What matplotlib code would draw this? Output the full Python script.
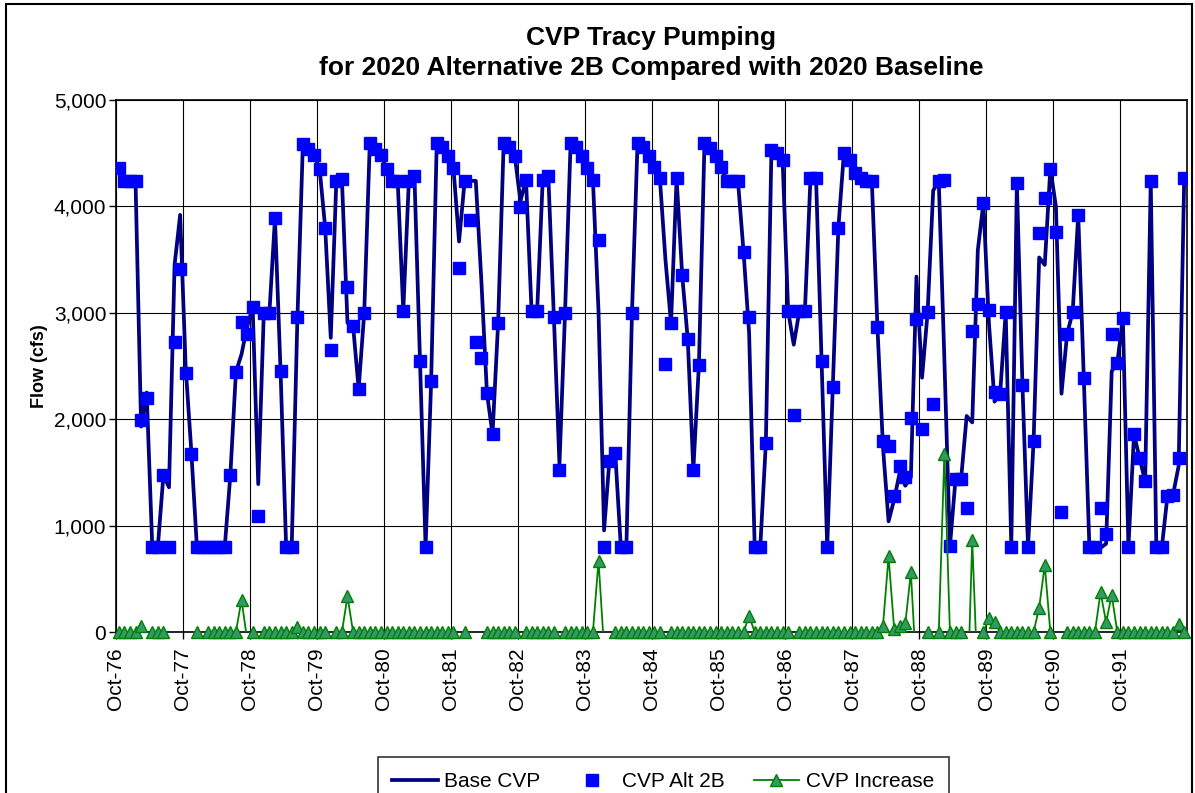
import matplotlib.pyplot as plt
import numpy as np
from matplotlib.lines import Line2D
from matplotlib.patches import Rectangle
from matplotlib.ticker import FuncFormatter

plt.rcParams['font.family'] = ['Liberation Sans', 'DejaVu Sans']

tick_labels = ['Oct-76', 'Oct-77', 'Oct-78', 'Oct-79', 'Oct-80', 'Oct-81', 'Oct-82', 'Oct-83',
               'Oct-84', 'Oct-85', 'Oct-86', 'Oct-87', 'Oct-88', 'Oct-89', 'Oct-90', 'Oct-91']

# monthly flows (cfs), Oct-76 .. Sep-92, one row per water year
base_cvp = [
    4360, 4240, 4240, 4240, 1930, 2250, 800, 800, 1475, 1360, 3450, 3920,
    2480, 1700, 800, 840, 800, 800, 800, 800, 1475, 2445, 2610, 2870,
    3050, 1390, 3000, 3000, 3890, 2455, 800, 800, 2910, 4585, 4540, 4480,
    4355, 3800, 2765, 4240, 4255, 2905, 2880, 2285, 3000, 4600, 4540, 4480,
    4355, 4240, 4240, 3015, 4240, 4290, 2545, 800, 2360, 4600, 4560, 4470,
    4360, 3670, 4240, 4240, 4240, 3300, 2245, 1860, 2900, 4600, 4560, 4470,
    4050, 4250, 3015, 3015, 4250, 4290, 2960, 1575, 3000, 4600, 4560, 4470,
    4360, 4250, 3015, 955, 1650, 1685, 800, 800, 3000, 4600, 4560, 4470,
    4370, 4265, 3500, 2900, 4265, 3355, 2750, 1525, 2510, 4600, 4545, 4470,
    4370, 4240, 4240, 4240, 3575, 2810, 800, 800, 1775, 4530, 4505, 4440,
    3015, 2700, 3015, 3015, 4265, 4265, 2545, 800, 2300, 3800, 4505, 4440,
    4310, 4265, 4240, 4240, 2870, 1735, 1040, 1245, 1500, 1375, 1455, 3340,
    2390, 3005, 4150, 4235, 2570, 805, 1435, 1435, 2030, 1970, 3590, 4030,
    2895, 2165, 2240, 3005, 800, 4220, 2320, 800, 1795, 3520, 3450, 4355,
    4000, 2240, 2800, 3005, 3920, 2385, 800, 800, 790, 830, 2450, 2530,
    2950, 800, 1860, 1635, 1415, 4240, 800, 800, 1280, 1290, 1560, 4265,
]

alt_2b = [
    4360, 4240, 4240, 4240, 1990, 2200, 800, 800, 1475, 800, 2730, 3410,
    2430, 1675, 800, 800, 800, 800, 800, 800, 1475, 2445, 2915, 2800,
    3050, 1090, 3000, 3000, 3890, 2455, 800, 800, 2960, 4585, 4540, 4480,
    4355, 3800, 2655, 4240, 4255, 3240, 2880, 2285, 3000, 4600, 4540, 4480,
    4355, 4240, 4240, 3015, 4240, 4290, 2545, 800, 2360, 4600, 4560, 4470,
    4360, 3420, 4240, 3870, 2730, 2575, 2245, 1860, 2900, 4600, 4560, 4470,
    3990, 4250, 3015, 3015, 4250, 4290, 2960, 1525, 3000, 4600, 4560, 4470,
    4360, 4250, 3685, 800, 1610, 1685, 800, 800, 3000, 4600, 4560, 4470,
    4370, 4265, 2520, 2900, 4265, 3355, 2750, 1525, 2510, 4600, 4545, 4470,
    4370, 4240, 4240, 4240, 3575, 2960, 800, 800, 1775, 4530, 4505, 4440,
    3015, 2040, 3015, 3015, 4265, 4265, 2545, 800, 2300, 3800, 4505, 4440,
    4310, 4265, 4240, 4240, 2870, 1795, 1750, 1275, 1560, 1455, 2015, 2940,
    1905, 3005, 2140, 4235, 4245, 805, 1435, 1435, 1170, 2830, 3080, 4030,
    3025, 2255, 2240, 3005, 800, 4220, 2320, 800, 1795, 3750, 4080, 4355,
    3760, 1130, 2800, 3005, 3920, 2385, 800, 800, 1165, 920, 2800, 2530,
    2950, 800, 1860, 1635, 1415, 4240, 800, 800, 1280, 1290, 1635, 4265,
]

cvp_increase = [
    0, 0, 0, 0, 60, -50, 0, 0, 0, -560, -720, -510,
    -50, -25, 0, -40, 0, 0, 0, 0, 0, 0, 305, -70,
    0, -300, 0, 0, 0, 0, 0, 0, 50, 0, 0, 0,
    0, 0, -110, 0, 0, 335, 0, 0, 0, 0, 0, 0,
    0, 0, 0, 0, 0, 0, 0, 0, 0, 0, 0, 0,
    0, -250, 0, -370, -1510, -725, 0, 0, 0, 0, 0, 0,
    -60, 0, 0, 0, 0, 0, 0, -50, 0, 0, 0, 0,
    0, 0, 670, -155, -40, 0, 0, 0, 0, 0, 0, 0,
    0, 0, -980, 0, 0, 0, 0, 0, 0, 0, 0, 0,
    0, 0, 0, 0, 0, 150, 0, 0, 0, 0, 0, 0,
    0, -660, 0, 0, 0, 0, 0, 0, 0, 0, 0, 0,
    0, 0, 0, 0, 0, 60, 710, 30, 60, 80, 560, -400,
    -485, 0, -2010, 0, 1675, 0, 0, 0, -860, 860, -510, 0,
    130, 90, 0, 0, 0, 0, 0, 0, 0, 230, 630, 0,
    -240, -1110, 0, 0, 0, 0, 0, 0, 375, 90, 350, 0,
    0, 0, 0, 0, 0, 0, 0, 0, 0, 0, 75, 0,
]

x = [i + 0.5 for i in range(len(base_cvp))]

fig = plt.figure(figsize=(11.95, 7.93), dpi=100)
ax = fig.add_axes([116 / 1195, 1 - 632 / 793, (1187 - 116) / 1195, (632 - 100) / 793])

ax.plot(x, base_cvp, color='#000080', lw=2.7, zorder=3)
ax.plot(x, alt_2b, ls='none', marker='s', ms=8.5, color='#0000FF', zorder=4)
ax.plot(x, cvp_increase, color='#008000', lw=1.3, zorder=5)
# markers below the axis minimum are hidden, the rest drawn unclipped (like Excel)
inc_shown = np.ma.masked_less(cvp_increase, 0)
ax.plot(x, inc_shown, ls='none', marker='^', ms=8.5, mfc='#339966', mec='#008000', mew=1,
        zorder=6, clip_on=False)

ax.set_xlim(0, len(base_cvp))
ax.set_ylim(0, 5000)
ax.set_xticks(range(0, 12 * len(tick_labels), 12))
ax.set_xticklabels(tick_labels, rotation=90, fontsize=15)
ax.set_yticks(range(0, 5001, 1000))
ax.yaxis.set_major_formatter(FuncFormatter(lambda v, p: '{:,}'.format(int(v))))
ax.tick_params(axis='y', labelsize=15, length=5, width=1, pad=2)
ax.tick_params(axis='x', length=5, width=1, pad=6)
ax.grid(True, color='black', lw=0.8)
for s in ax.spines.values():
    s.set_linewidth(1.2)

ax.set_ylabel('Flow (cfs)', fontsize=13, fontweight='bold', labelpad=4)
fig.text(651 / 1195, 1 - 53 / 793, 'CVP Tracy Pumping\nfor 2020 Alternative 2B Compared with 2020 Baseline',
         ha='center', va='center', fontsize=19, fontweight='bold', linespacing=1.35)

handles = [
    Line2D([], [], color='#000080', lw=2.7),
    Line2D([], [], ls='none', marker='s', ms=8.5, color='#0000FF'),
    Line2D([], [], color='#008000', lw=1.3, marker='^', ms=8.5, mfc='#339966', mec='#008000'),
]
leg = fig.legend(handles, ['Base CVP', 'CVP Alt 2B', 'CVP Increase'],
                 loc='upper center', bbox_to_anchor=(663 / 1195, 1 - 747 / 793), ncol=3,
                 fontsize=15, frameon=True, fancybox=False, edgecolor='black',
                 handlelength=2.2, handletextpad=0.3, columnspacing=1.4, borderpad=0.7)
leg.get_frame().set_linewidth(1.2)

fig.patches.append(Rectangle((6 / 1195, -0.05), (1192 - 6) / 1195, 1.05 - 4 / 793,
                             transform=fig.transFigure, fill=False, edgecolor='black', lw=1.5))

plt.savefig('out.png', dpi=100)
